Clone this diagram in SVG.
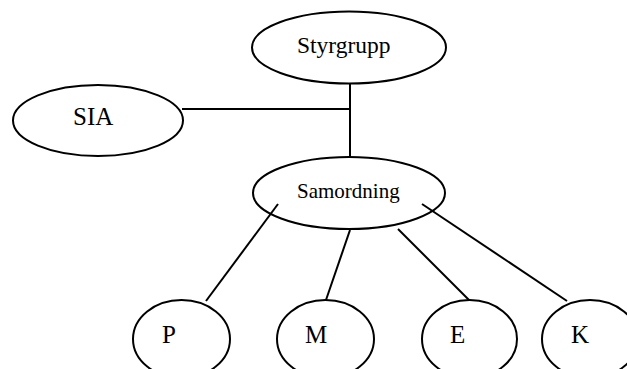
<svg xmlns="http://www.w3.org/2000/svg" width="627" height="369" viewBox="0 0 627 369">
<style>
.n{fill:none;stroke:#000;stroke-width:2}
.c line{stroke:#000;stroke-width:2}
text{font-family:"Liberation Serif","Times New Roman",serif;fill:#000}
.big{font-size:25px}
</style>
<rect width="627" height="369" fill="#fff"/>
<g class="c" id="connectors">
<line x1="350" y1="83" x2="350" y2="157"/>
<line x1="182" y1="109" x2="350" y2="109"/>
<line x1="278" y1="204" x2="206" y2="301"/>
<line x1="350" y1="230" x2="326" y2="300"/>
<line x1="398" y1="229" x2="469" y2="300"/>
<line x1="422" y1="204" x2="567" y2="301"/>
</g>
<g id="styrgrupp"><ellipse class="n" cx="349" cy="47.5" rx="97" ry="36"/><text x="297" y="53" font-size="23.5">Styrgrupp</text></g>
<g id="sia"><ellipse class="n" cx="98" cy="120.5" rx="85" ry="35.5"/><text class="big" x="73" y="125">SIA</text></g>
<g id="samordning"><ellipse class="n" cx="349" cy="193" rx="96" ry="36"/><text x="297" y="198" font-size="21">Samordning</text></g>
<g id="p"><ellipse class="n" cx="181.5" cy="339" rx="48.5" ry="39"/><text class="big" x="162" y="343">P</text></g>
<g id="m"><ellipse class="n" cx="325.5" cy="339" rx="48.5" ry="39"/><text class="big" x="305" y="343">M</text></g>
<g id="e"><ellipse class="n" cx="469.5" cy="339" rx="47.5" ry="39"/><text class="big" x="450" y="343">E</text></g>
<g id="k"><ellipse class="n" cx="590" cy="339" rx="48" ry="39"/><text class="big" x="571" y="343">K</text></g>
</svg>
